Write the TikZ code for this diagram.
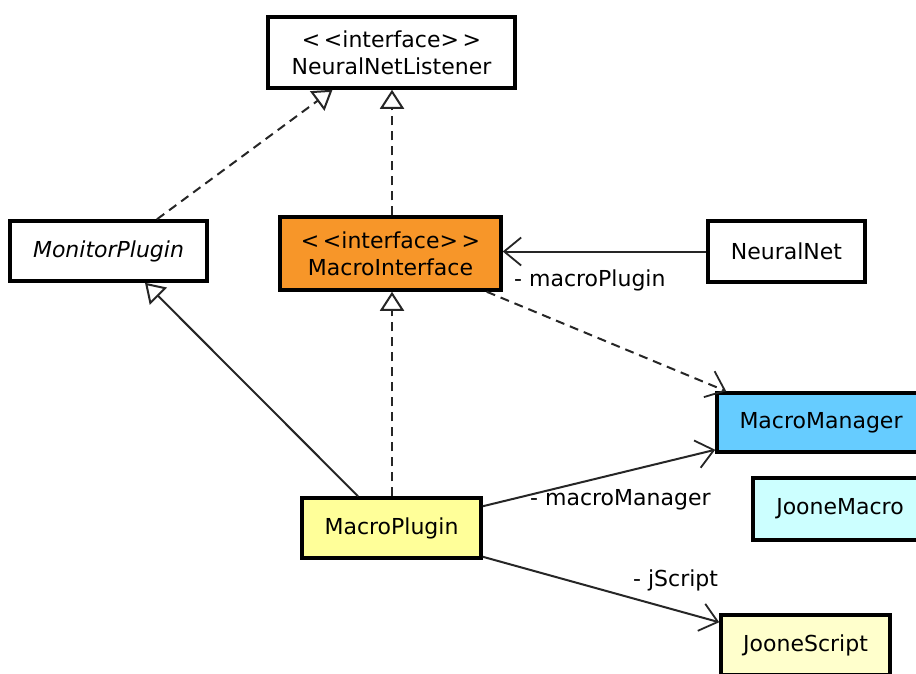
\documentclass[tikz,border=0pt]{standalone}
\usepackage{fontspec}
\setmainfont{DejaVu Sans}
\usetikzlibrary{arrows.meta}
\definecolor{orangec}{RGB}{247,150,41}
\definecolor{bluec}{RGB}{102,204,255}
\definecolor{cyanc}{RGB}{204,255,255}
\definecolor{yellowc}{RGB}{255,255,153}
\definecolor{paleyc}{RGB}{255,255,204}
\begin{document}
\begin{tikzpicture}[x=1pt,y=-1pt,
  cls/.style={draw=black, line width=3.5pt, rectangle, inner sep=0pt, align=center,
    font=\fontsize{22}{27}\selectfont},
  lbl/.style={inner sep=0pt, font=\fontsize{22}{27}\selectfont},
  conn/.style={line width=2pt, draw=black!85},
  dsh/.style={dash pattern=on 9pt off 6pt},
  gen/.style={-{Triangle[open, length=19pt, width=24pt, fill=white, line width=2pt]}},
  nav/.style={-{Straight Barb[length=17pt, width=28pt, line width=1.8pt]}}]
\clip (0,0) rectangle (916,673);
\useasboundingbox (0,0) rectangle (916,673);
\fill[white] (0,0) rectangle (916,673);

\node[cls, fill=white, minimum width=247pt, minimum height=71pt] (nnl) at (391.5,52.5)
  {<\,<interface>\,>\\NeuralNetListener};
\node[cls, fill=white, minimum width=197pt, minimum height=60pt] (mon) at (108.5,251)
  {\itshape MonitorPlugin};
\node[cls, fill=orangec, minimum width=221pt, minimum height=73pt] (mi) at (390.5,253.5)
  {<\,<interface>\,>\\MacroInterface};
\node[cls, fill=white, minimum width=157pt, minimum height=61pt] (nn) at (786.5,251.5)
  {NeuralNet};
\node[cls, fill=bluec, minimum width=208pt, minimum height=59pt] (mm) at (821,422.5)
  {MacroManager};
\node[cls, fill=cyanc, minimum width=174pt, minimum height=62pt] (jm) at (840,509)
  {JooneMacro};
\node[cls, fill=yellowc, minimum width=179pt, minimum height=60pt] (mp) at (391.5,528)
  {MacroPlugin};
\node[cls, fill=paleyc, minimum width=169pt, minimum height=60pt] (js) at (805.5,645)
  {JooneScript};

% realizations to NeuralNetListener
\draw[conn, dsh, gen] ([xshift=48.5pt]mon.north) -- ([xshift=-59pt]nnl.south);
\draw[conn, dsh, gen] ([xshift=1.5pt]mi.north) -- ([xshift=0.5pt]nnl.south);

% NeuralNet -> MacroInterface
\draw[conn, nav] (nn.west) -- (nn.west -| mi.east);
\node[lbl, anchor=base west] (lmp) at (514,286) {- macroPlugin};

% MacroInterface -> MacroManager (dependency)
\draw[conn, dsh, nav] ([xshift=-16pt]mi.south east) -- ([xshift=11pt]mm.north west);

% MacroPlugin generalizations
\draw[conn, gen] ([xshift=-33.5pt]mp.north) -- ([xshift=36.5pt]mon.south);
\draw[conn, dsh, gen] ([xshift=0.5pt]mp.north) -- ([xshift=1.5pt]mi.south);

% MacroPlugin associations
\draw[conn, nav] ([yshift=-10pt]mp.north east) -- ([yshift=4pt]mm.south west);
\node[lbl, anchor=base west] (lmm) at (530,505) {- macroManager};
\draw[conn, nav] ([yshift=3pt]mp.south east) -- ([yshift=-9pt]js.north west);
\node[lbl, anchor=base west] (ljs) at (633,586) {- jScript};
\end{tikzpicture}
\end{document}
